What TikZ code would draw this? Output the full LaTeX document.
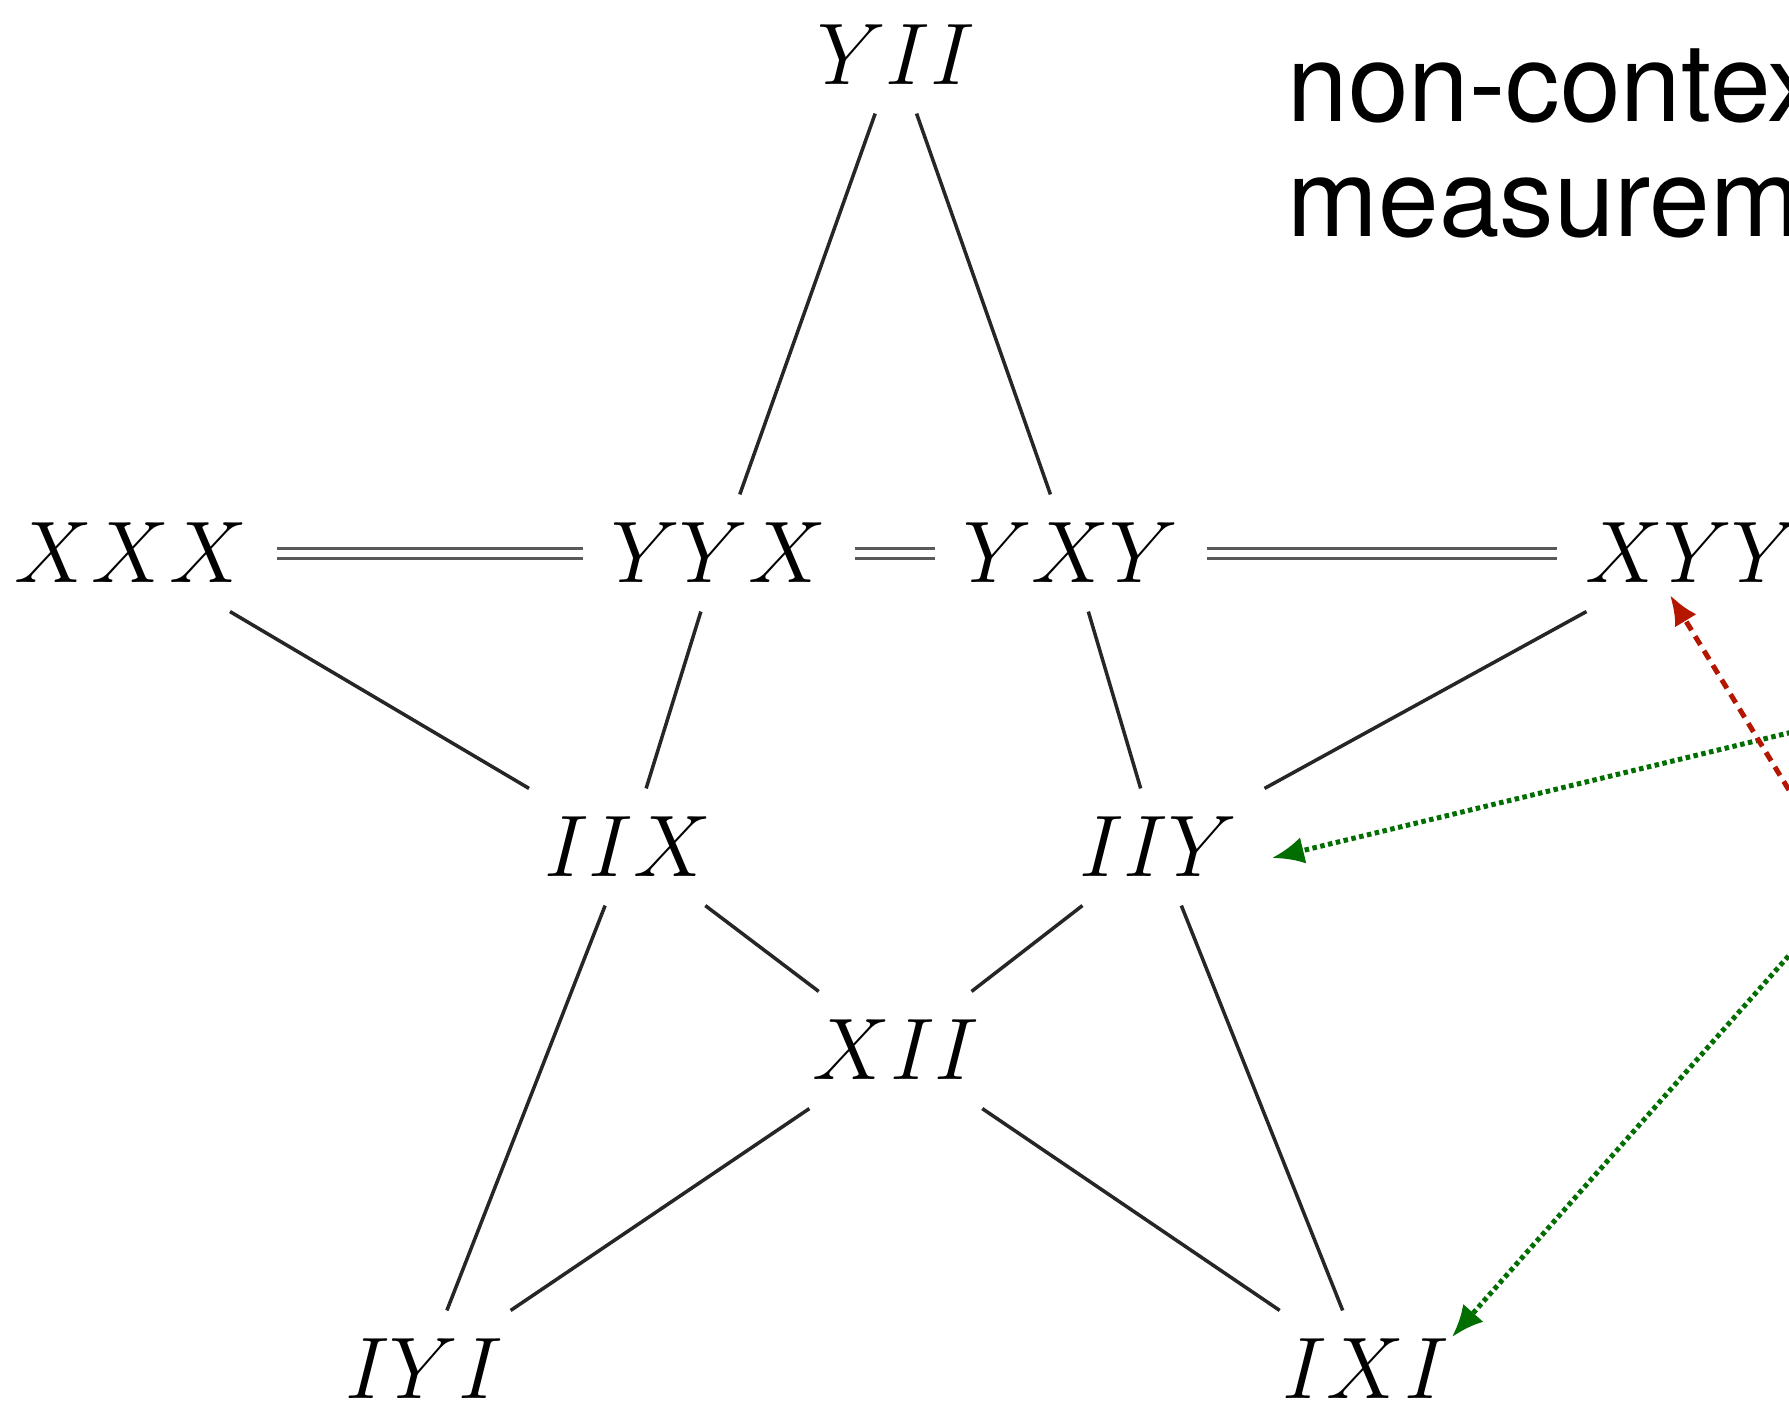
\documentclass[tikz,border=0pt]{standalone}
\usepackage{fontspec}
\newfontfamily\heros{TeX Gyre Heros}
\usetikzlibrary{arrows.meta}
\definecolor{dotgreen}{RGB}{0,110,0}
\definecolor{dashred}{RGB}{180,22,0}

\begin{document}
\begin{tikzpicture}[
    op/.style={inner sep=0.28cm, font=\fontsize{24}{29}\selectfont},
    edge/.style={line width=0.035cm, black!85},
    eq/.style={double, line width=0.03cm, double distance=0.07cm, black!65},
    greenarrow/.style={dotgreen, line width=0.05cm, dash pattern=on 0.045cm off 0.035cm, -{Latex[length=0.32cm, width=0.27cm]}},
    redarrow/.style={dashred, line width=0.05cm, dash pattern=on 0.1cm off 0.07cm, -{Latex[length=0.3cm, width=0.25cm]}}
]
    % 画布大小
    \useasboundingbox (0,0) rectangle (17.89,-14.06);
    \clip (0,0) rectangle (17.89,-14.06);
    \fill[white] (0,0) rectangle (17.89,-14.06);

    % 五角星上的节点
    \node[op] (YII) at (8.96,-0.55) {$YII$};
    \node[op] (XXX) at (1.31,-5.53) {$XXX$};
    \node[op] (YYX) at (7.19,-5.53) {$YYX$};
    \node[op] (YXY) at (10.71,-5.53) {$YXY$};
    \node[op] (XYY) at (16.93,-5.53) {$XYY$};
    \node[op] (IIX) at (6.28,-8.47) {$IIX$};
    \node[op] (IIY) at (11.58,-8.47) {$IIY$};
    \node[op] (XII) at (8.96,-10.50) {$XII$};
    \node[op] (IYI) at (4.24,-13.69) {$IYI$};
    \node[op] (IXI) at (13.66,-13.69) {$IXI$};

    % 水平的双线
    \draw[eq] (XXX) -- (YYX);
    \draw[eq] (YYX) -- (YXY);
    \draw[eq] (YXY) -- (XYY);

    % 五角星的边
    \draw[edge] (YII) -- (YYX);
    \draw[edge] (YII) -- (YXY);
    \draw[edge] (XXX) -- (IIX);
    \draw[edge] (YYX) -- (IIX);
    \draw[edge] (YXY) -- (IIY);
    \draw[edge] (XYY) -- (IIY);
    \draw[edge] (IIX) -- (XII);
    \draw[edge] (IIY) -- (XII);
    \draw[edge] (IIX) -- (IYI);
    \draw[edge] (IIY) -- (IXI);
    \draw[edge] (XII) -- (IYI);
    \draw[edge] (XII) -- (IXI);

    % 右上角的文字
    \node[anchor=base west, inner sep=0, font=\heros\fontsize{31}{37}\selectfont] (title1) at (12.87,-1.22) {non-contextual};
    \node[anchor=base west, inner sep=0, font=\heros\fontsize{31}{37}\selectfont] (title2) at (12.87,-2.37) {measurements};

    % 从右边进来的箭头
    \coordinate (srcA) at (19.00,-7.06);
    \coordinate (srcB) at (18.42,-8.77);
    \coordinate (srcC) at (18.15,-9.26);
    \draw[greenarrow] (srcA) -- ([shift={(1.14,-0.11)}]IIY.center);
    \draw[redarrow] (srcB) -- ([shift={(-0.23,-0.42)}]XYY.center);
    \draw[greenarrow] (srcC) -- ([shift={(0.86,0.32)}]IXI.center);
\end{tikzpicture}
\end{document}
